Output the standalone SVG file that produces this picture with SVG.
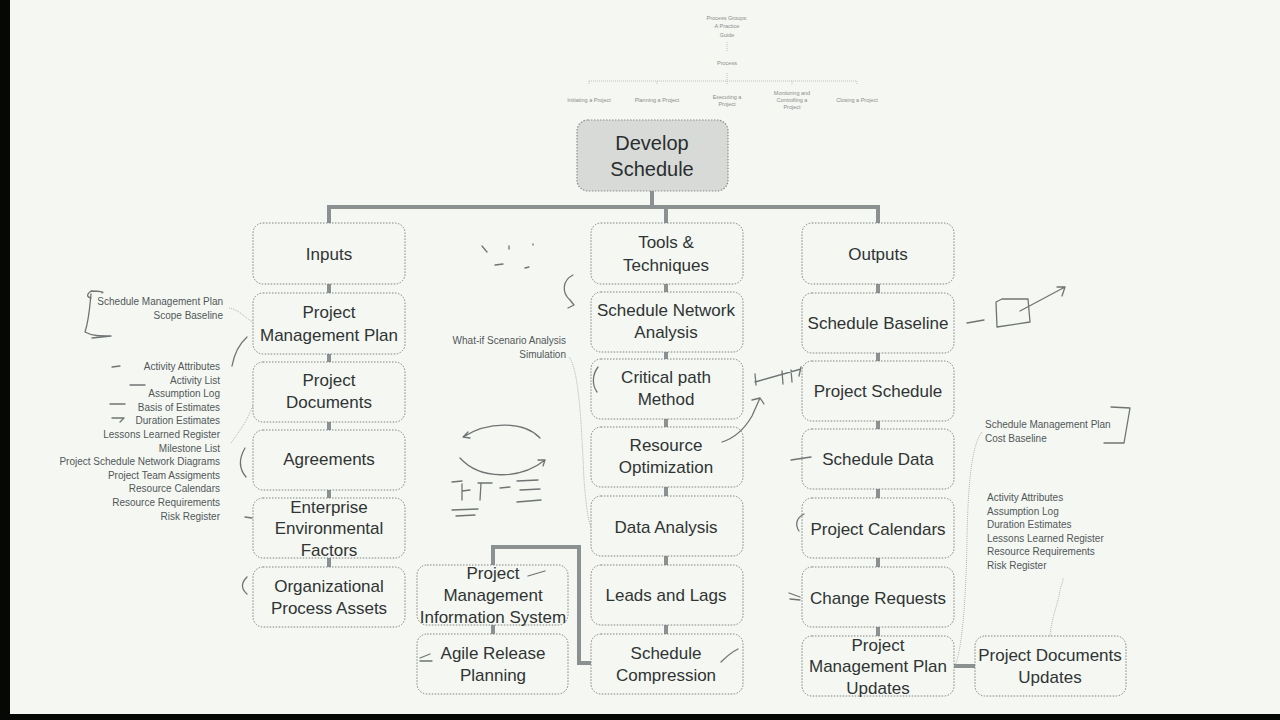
<svg xmlns="http://www.w3.org/2000/svg" width="1280" height="720" viewBox="0 0 1280 720">
<defs>
<style>
.bg{fill:#f5f7f2}
.box{fill:#f5f7f2;stroke:#7f8383;stroke-width:1;stroke-dasharray:1.5 1.5}
.main{fill:#d8dad8;stroke:#8a8d8d;stroke-width:1.2;stroke-dasharray:1.5 1.5}
.lbl{font-family:"Liberation Sans",Arial,sans-serif;font-size:17px;fill:#2f3434;text-anchor:middle}
.big{font-family:"Liberation Sans",Arial,sans-serif;font-size:20px;fill:#2a2e2e;text-anchor:middle}
.sm{font-family:"Liberation Sans",Arial,sans-serif;font-size:10px;fill:#51575a}
.r{text-anchor:end}
.tiny{font-family:"Liberation Sans",Arial,sans-serif;font-size:5.5px;fill:#8a8d8d;text-anchor:middle}
.conn{fill:none;stroke:#8b9090;stroke-width:4}
.thin{fill:none;stroke:#a0a4a4;stroke-width:0.8;stroke-dasharray:1 1}
.ink{fill:none;stroke:#6f7575;stroke-width:1.3;stroke-linecap:round;stroke-linejoin:round}
</style>
</defs>
<rect class="bg" x="0" y="0" width="1280" height="720"/>
<rect x="0" y="0" width="10" height="720" fill="#060806"/>
<rect x="0" y="714" width="1280" height="6" fill="#060806"/>

<!-- top mini chart -->
<g id="topchart">
<text class="tiny" x="727" y="20">Process Groups:</text>
<text class="tiny" x="727" y="28">A Practice</text>
<text class="tiny" x="727" y="37">Guide</text>
<text class="tiny" x="727" y="65">Process</text>
<path d="M727,42 V51 M727,73 V81 M589,81 H857 M589,81 V85 M657,81 V85 M727,81 V85 M792,81 V85 M857,81 V85" fill="none" stroke="#a8acac" stroke-width="0.7" stroke-dasharray="1 1"/>
<text class="tiny" x="589" y="102">Initiating a Project</text>
<text class="tiny" x="657" y="102">Planning a Project</text>
<text class="tiny" x="727" y="99">Executing a</text>
<text class="tiny" x="727" y="106">Project</text>
<text class="tiny" x="792" y="95">Monitoring and</text>
<text class="tiny" x="792" y="102">Controlling a</text>
<text class="tiny" x="792" y="109">Project</text>
<text class="tiny" x="857" y="102">Closing a Project</text>
</g>

<!-- connectors -->
<g id="connectors">
<path class="conn" d="M652,191 V207 M327,207 H880 M329,207 V223 M666,207 V223 M878,207 V223"/>
<path class="conn" d="M329,284 V293 M329,354 V362 M329,422 V430 M329,490 V498 M329,558 V567"/>
<path class="conn" d="M666,284 V292 M666,352 V359 M666,419 V427 M666,487 V496 M666,556 V565 M666,625 V634"/>
<path class="conn" d="M878,284 V293 M878,353 V361 M878,421 V429 M878,489 V498 M878,558 V567 M878,627 V636"/>
<path class="conn" d="M493,625 V634"/>
<path class="conn" d="M493,565 V547 H579 V663 H591" stroke-width="3.5"/>
<path class="conn" d="M954,666 H975"/>
</g>

<g id="n-develop"><rect class="main" x="577" y="120" width="151" height="71" rx="11"/>
<text class="big" x="652" y="150">Develop</text><text class="big" x="652" y="176">Schedule</text></g>

<g id="n-inputs"><rect class="box" x="253" y="223" width="152" height="61" rx="10"/><text class="lbl" x="329" y="260">Inputs</text></g>
<g id="n-pmp"><rect class="box" x="253" y="293" width="152" height="61" rx="10"/><text class="lbl" x="329" y="318">Project</text><text class="lbl" x="329" y="341">Management Plan</text></g>
<g id="n-pd"><rect class="box" x="253" y="362" width="152" height="60" rx="10"/><text class="lbl" x="329" y="386">Project</text><text class="lbl" x="329" y="408">Documents</text></g>
<g id="n-agr"><rect class="box" x="253" y="430" width="152" height="60" rx="10"/><text class="lbl" x="329" y="465">Agreements</text></g>
<g id="n-eef"><rect class="box" x="253" y="498" width="152" height="60" rx="10"/><text class="lbl" x="329" y="513">Enterprise</text><text class="lbl" x="329" y="534">Environmental</text><text class="lbl" x="329" y="556">Factors</text></g>
<g id="n-opa"><rect class="box" x="253" y="567" width="152" height="60" rx="10"/><text class="lbl" x="329" y="592">Organizational</text><text class="lbl" x="329" y="614">Process Assets</text></g>

<g id="n-tools"><rect class="box" x="591" y="223" width="152" height="61" rx="10"/><text class="lbl" x="666" y="248">Tools &amp;</text><text class="lbl" x="666" y="271">Techniques</text></g>
<g id="n-sna"><rect class="box" x="591" y="292" width="152" height="60" rx="10"/><text class="lbl" x="666" y="316">Schedule Network</text><text class="lbl" x="666" y="338">Analysis</text></g>
<g id="n-cpm"><rect class="box" x="591" y="359" width="152" height="60" rx="10"/><text class="lbl" x="666" y="383">Critical path</text><text class="lbl" x="666" y="405">Method</text></g>
<g id="n-ro"><rect class="box" x="591" y="427" width="152" height="60" rx="10"/><text class="lbl" x="666" y="451">Resource</text><text class="lbl" x="666" y="473">Optimization</text></g>
<g id="n-da"><rect class="box" x="591" y="496" width="152" height="60" rx="10"/><text class="lbl" x="666" y="533">Data Analysis</text></g>
<g id="n-ll"><rect class="box" x="591" y="565" width="152" height="60" rx="10"/><text class="lbl" x="666" y="601">Leads and Lags</text></g>
<g id="n-sc"><rect class="box" x="591" y="634" width="152" height="60" rx="10"/><text class="lbl" x="666" y="659">Schedule</text><text class="lbl" x="666" y="681">Compression</text></g>

<g id="n-pmis"><rect class="box" x="417" y="565" width="151" height="60" rx="10"/><text class="lbl" x="493" y="579">Project</text><text class="lbl" x="493" y="601">Management</text><text class="lbl" x="493" y="623">Information System</text></g>
<g id="n-arp"><rect class="box" x="417" y="634" width="151" height="60" rx="10"/><text class="lbl" x="493" y="659">Agile Release</text><text class="lbl" x="493" y="681">Planning</text></g>

<g id="n-outputs"><rect class="box" x="802" y="223" width="152" height="61" rx="10"/><text class="lbl" x="878" y="260">Outputs</text></g>
<g id="n-sb"><rect class="box" x="802" y="293" width="152" height="60" rx="10"/><text class="lbl" x="878" y="329">Schedule Baseline</text></g>
<g id="n-ps"><rect class="box" x="802" y="361" width="152" height="60" rx="10"/><text class="lbl" x="878" y="397">Project Schedule</text></g>
<g id="n-sd"><rect class="box" x="802" y="429" width="152" height="60" rx="10"/><text class="lbl" x="878" y="465">Schedule Data</text></g>
<g id="n-pc"><rect class="box" x="802" y="498" width="152" height="60" rx="10"/><text class="lbl" x="878" y="535">Project Calendars</text></g>
<g id="n-cr"><rect class="box" x="802" y="567" width="152" height="60" rx="10"/><text class="lbl" x="878" y="604">Change Requests</text></g>
<g id="n-pmpu"><rect class="box" x="802" y="636" width="152" height="60" rx="10"/><text class="lbl" x="878" y="651">Project</text><text class="lbl" x="878" y="672">Management Plan</text><text class="lbl" x="878" y="694">Updates</text></g>
<g id="n-pdu"><rect class="box" x="975" y="636" width="151" height="60" rx="10"/><text class="lbl" x="1050" y="661">Project Documents</text><text class="lbl" x="1050" y="683">Updates</text></g>

<!-- annotation lists -->
<g id="notes">
<text class="sm r" x="223" y="305">Schedule Management Plan</text>
<text class="sm r" x="223" y="319">Scope Baseline</text>
<text class="sm r" x="220" y="370">Activity Attributes</text>
<text class="sm r" x="220" y="384">Activity List</text>
<text class="sm r" x="220" y="397">Assumption Log</text>
<text class="sm r" x="220" y="411">Basis of Estimates</text>
<text class="sm r" x="220" y="424">Duration Estimates</text>
<text class="sm r" x="220" y="438">Lessons Learned Register</text>
<text class="sm r" x="220" y="452">Milestone List</text>
<text class="sm r" x="220" y="465">Project Schedule Network Diagrams</text>
<text class="sm r" x="220" y="479">Project Team Assigments</text>
<text class="sm r" x="220" y="492">Resource Calendars</text>
<text class="sm r" x="220" y="506">Resource Requirements</text>
<text class="sm r" x="220" y="520">Risk Register</text>
<text class="sm r" x="566" y="344">What-if Scenario Analysis</text>
<text class="sm r" x="566" y="358">Simulation</text>
<text class="sm" x="985" y="428">Schedule Management Plan</text>
<text class="sm" x="985" y="442">Cost Baseline</text>
<text class="sm" x="987" y="501">Activity Attributes</text>
<text class="sm" x="987" y="515">Assumption Log</text>
<text class="sm" x="987" y="528">Duration Estimates</text>
<text class="sm" x="987" y="542">Lessons Learned Register</text>
<text class="sm" x="987" y="555">Resource Requirements</text>
<text class="sm" x="987" y="569">Risk Register</text>
<path class="thin" d="M229,308 C240,310 245,318 253,322"/>
<path class="thin" d="M231,443 C240,430 248,420 253,405"/>
<path class="thin" d="M569,357 C580,370 582,440 584,480 C586,505 588,520 591,527"/>
<path class="thin" d="M955,666 C962,650 966,600 967,540 C968,480 972,445 982,432"/>
<path class="thin" d="M1050,636 C1052,615 1058,605 1060,590 C1061,585 1063,583 1063,578"/>
</g>

<!-- handwritten ink marks -->
<g id="ink">
<path class="ink" d="M91,298 C87,297 86,295 91,291 C100,291 105,292 102,293 M91,294 C90,305 89,320 85,332 C92,336 100,336 111,336 L92,338"/>
<path class="ink" d="M247,337 C238,345 234,355 232,366"/>
<path class="ink" d="M112,367 L120,366 M130,385 L145,385 M110,404 L125,404 M112,418 L124,418 L120,422"/>
<path class="ink" d="M245,517 L252,518"/>
<path class="ink" d="M246,477 C240,470 238,460 245,448"/>
<path class="ink" d="M247,577 C242,582 240,588 247,594"/>
<path class="ink" d="M482,246 L487,252 M509,246 L509,249 M533,244 L533,245 M495,265 L503,264 M525,268 L529,267"/>
<path class="ink" d="M573,275 C563,280 561,292 570,300 L574,305 L568,308"/>
<path class="ink" d="M598,367 C592,375 592,385 597,392"/>
<path class="ink" d="M540,438 C525,422 490,420 463,437 M463,437 L468,432 M463,437 L470,438"/>
<path class="ink" d="M460,458 C480,480 520,480 545,460 M545,460 L538,460 M545,460 L543,466"/>
<path class="ink" d="M452,482 L462,481 M462,484 L462,500 M462,491 L470,490 M478,483 L492,483 M481,483 L480,500 M500,488 L510,487 M517,481 L538,480 M520,490 L540,489 M517,502 L541,500 M452,510 L478,509 M456,516 L475,515"/>
<path class="ink" d="M528,576 L545,571"/>
<path class="ink" d="M420,658 L430,654 M420,661 L432,661"/>
<path class="ink" d="M721,662 C728,655 732,652 738,649"/>
<path class="ink" d="M722,442 C735,438 745,428 752,416 L760,398 M760,398 L752,400 M760,398 L764,404"/>
<path class="ink" d="M755,382 L801,369 M755,374 L756,385 M782,371 L783,384 M791,370 L792,382 M801,367 L799,376"/>
<path class="ink" d="M967,323 L984,320"/>
<path class="ink" d="M996,302 L1002,299 L1028,299 L1030,322 L997,327 Z M1020,311 L1065,287 M1065,287 L1057,287 M1065,287 L1062,296"/>
<path class="ink" d="M791,460 L811,457"/>
<path class="ink" d="M804,514 C796,518 795,525 799,531"/>
<path class="ink" d="M789,593 L800,597 M790,599 L800,600"/>
<path class="ink" d="M1111,407 L1130,408 L1124,443 L1104,443"/>
</g>
</svg>
